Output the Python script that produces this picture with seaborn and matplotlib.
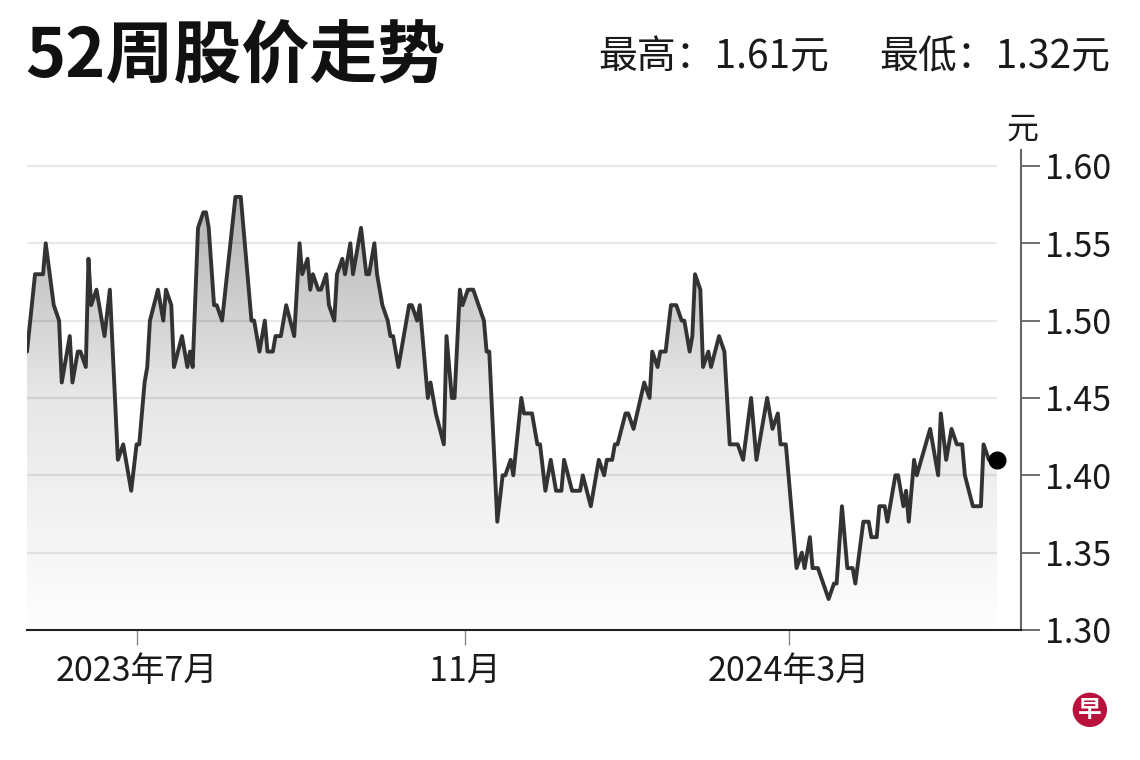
import numpy as np
import pandas as pd
import matplotlib
matplotlib.use('Agg')
import matplotlib.pyplot as plt
import matplotlib.dates as mdates
from matplotlib.colors import LinearSegmentedColormap
import seaborn as sns

# price vertices
dates = [
    '2023-05-21', '2023-05-24', '2023-05-27', '2023-05-28', '2023-05-31',
    '2023-06-02', '2023-06-03', '2023-06-06', '2023-06-07', '2023-06-09',
    '2023-06-10', '2023-06-12', '2023-06-13', '2023-06-14', '2023-06-16',
    '2023-06-19', '2023-06-21', '2023-06-24', '2023-06-26', '2023-06-29',
    '2023-07-01', '2023-07-02', '2023-07-04', '2023-07-05', '2023-07-06',
    '2023-07-09', '2023-07-11', '2023-07-12', '2023-07-14', '2023-07-15',
    '2023-07-18', '2023-07-20', '2023-07-21', '2023-07-22', '2023-07-24',
    '2023-07-26', '2023-07-27', '2023-07-28', '2023-07-30', '2023-07-31',
    '2023-08-02', '2023-08-07', '2023-08-09', '2023-08-10', '2023-08-11',
    '2023-08-13', '2023-08-14', '2023-08-16', '2023-08-18', '2023-08-19',
    '2023-08-21', '2023-08-22', '2023-08-24', '2023-08-26', '2023-08-29',
    '2023-08-31', '2023-09-01', '2023-09-03', '2023-09-04', '2023-09-05',
    '2023-09-07', '2023-09-08', '2023-09-10', '2023-09-11', '2023-09-13',
    '2023-09-14', '2023-09-16', '2023-09-17', '2023-09-19', '2023-09-20',
    '2023-09-23', '2023-09-25', '2023-09-26', '2023-09-28', '2023-09-29',
    '2023-10-01', '2023-10-03', '2023-10-04', '2023-10-05', '2023-10-07',
    '2023-10-10', '2023-10-11', '2023-10-12', '2023-10-14', '2023-10-15',
    '2023-10-18', '2023-10-19', '2023-10-21', '2023-10-24', '2023-10-25',
    '2023-10-27', '2023-10-28', '2023-10-30', '2023-10-31', '2023-11-02',
    '2023-11-04', '2023-11-06', '2023-11-08', '2023-11-09', '2023-11-10',
    '2023-11-13', '2023-11-15', '2023-11-16', '2023-11-18', '2023-11-19',
    '2023-11-22', '2023-11-23', '2023-11-26', '2023-11-28', '2023-11-29',
    '2023-12-01', '2023-12-03', '2023-12-05', '2023-12-07', '2023-12-08',
    '2023-12-11', '2023-12-14', '2023-12-15', '2023-12-18', '2023-12-21',
    '2023-12-23', '2023-12-24', '2023-12-26', '2023-12-27', '2023-12-28',
    '2023-12-31', '2024-01-01', '2024-01-03', '2024-01-07', '2024-01-09',
    '2024-01-10', '2024-01-12', '2024-01-13', '2024-01-15', '2024-01-17',
    '2024-01-19', '2024-01-21', '2024-01-22', '2024-01-24', '2024-01-25',
    '2024-01-26', '2024-01-28', '2024-01-29', '2024-01-31', '2024-02-01',
    '2024-02-04', '2024-02-06', '2024-02-08', '2024-02-11', '2024-02-13',
    '2024-02-16', '2024-02-18', '2024-02-22', '2024-02-24', '2024-02-26',
    '2024-02-27', '2024-02-29', '2024-03-04', '2024-03-06', '2024-03-07',
    '2024-03-09', '2024-03-10', '2024-03-12', '2024-03-16', '2024-03-18',
    '2024-03-19', '2024-03-21', '2024-03-23', '2024-03-25', '2024-03-26',
    '2024-03-29', '2024-03-31', '2024-04-01', '2024-04-03', '2024-04-04',
    '2024-04-06', '2024-04-07', '2024-04-10', '2024-04-11', '2024-04-13',
    '2024-04-14', '2024-04-15', '2024-04-17', '2024-04-18', '2024-04-23',
    '2024-04-24', '2024-04-26', '2024-04-27', '2024-04-29', '2024-05-01',
    '2024-05-03', '2024-05-05', '2024-05-06', '2024-05-09', '2024-05-12',
    '2024-05-13', '2024-05-15', '2024-05-18',
]
prices = [
    1.48, 1.53, 1.53, 1.55, 1.51,
    1.50, 1.46, 1.49, 1.46, 1.48,
    1.48, 1.47, 1.54, 1.51, 1.52,
    1.49, 1.52, 1.41, 1.42, 1.39,
    1.42, 1.42, 1.46, 1.47, 1.50,
    1.52, 1.50, 1.52, 1.51, 1.47,
    1.49, 1.47, 1.48, 1.47, 1.56,
    1.57, 1.57, 1.56, 1.51, 1.51,
    1.50, 1.58, 1.58, 1.56, 1.54,
    1.50, 1.50, 1.48, 1.50, 1.48,
    1.48, 1.49, 1.49, 1.51, 1.49,
    1.55, 1.53, 1.54, 1.52, 1.53,
    1.52, 1.52, 1.53, 1.51, 1.50,
    1.53, 1.54, 1.53, 1.55, 1.53,
    1.56, 1.53, 1.53, 1.55, 1.53,
    1.51, 1.50, 1.49, 1.49, 1.47,
    1.50, 1.51, 1.51, 1.50, 1.51,
    1.45, 1.46, 1.44, 1.42, 1.49,
    1.45, 1.45, 1.52, 1.51, 1.52,
    1.52, 1.51, 1.50, 1.48, 1.48,
    1.37, 1.40, 1.40, 1.41, 1.40,
    1.45, 1.44, 1.44, 1.42, 1.42,
    1.39, 1.41, 1.39, 1.39, 1.41,
    1.39, 1.39, 1.40, 1.38, 1.41,
    1.40, 1.41, 1.41, 1.42, 1.42,
    1.44, 1.44, 1.43, 1.46, 1.45,
    1.48, 1.47, 1.48, 1.48, 1.51,
    1.51, 1.50, 1.50, 1.48, 1.49,
    1.53, 1.52, 1.47, 1.48, 1.47,
    1.49, 1.48, 1.42, 1.42, 1.41,
    1.45, 1.41, 1.45, 1.43, 1.44,
    1.42, 1.42, 1.34, 1.35, 1.34,
    1.36, 1.34, 1.34, 1.32, 1.33,
    1.33, 1.38, 1.34, 1.34, 1.33,
    1.37, 1.37, 1.36, 1.36, 1.38,
    1.38, 1.37, 1.40, 1.40, 1.38,
    1.39, 1.37, 1.41, 1.40, 1.43,
    1.42, 1.40, 1.44, 1.41, 1.43,
    1.42, 1.42, 1.40, 1.38, 1.38,
    1.42, 1.41, 1.41,
]

y_ticks = [1.30, 1.35, 1.40, 1.45, 1.50, 1.55, 1.60]
x_tick_dates = ['2023-07-01', '2023-11-01', '2024-03-01']
x_tick_labels = ['2023年7月', '11月', '2024年3月']
title = '52周股价走势'
high_text = '最高：1.61元'
low_text = '最低：1.32元'
unit = '元'

sns.set_style('white')
plt.rcParams['font.family'] = ['Noto Sans CJK SC', 'DejaVu Sans']

df = pd.DataFrame({'date': pd.to_datetime(dates), 'price': prices})

fig = plt.figure(figsize=(11.4, 7.6), dpi=100)
ax = fig.add_axes([0.0237, 0.1711, 0.8719, 0.6309])

sns.lineplot(data=df, x='date', y='price', ax=ax, color='#333333',
             linewidth=2.8, zorder=4, solid_joinstyle='round')

x_end = pd.Timestamp('2024-05-27')
y_lo, y_hi = 1.30, 1.61

# gradient fill under the line
poly = ax.fill_between(df['date'], df['price'], y_lo, facecolor='none',
                       edgecolor='none')
cmap = LinearSegmentedColormap.from_list('fade', ['#fefefe', '#e6e6e6', '#a6a6a6'])
grad = np.linspace(1, 0, 256).reshape(-1, 1)
x0 = mdates.date2num(df['date'].iloc[0])
x1 = mdates.date2num(df['date'].iloc[-1])
im = ax.imshow(grad, extent=[x0, x1, y_lo, y_hi], aspect='auto', cmap=cmap,
               vmin=0, vmax=1, origin='upper', zorder=1)
im.set_clip_path(poly.get_paths()[0], transform=ax.transData)

# grid lines stop at the last point
ax.hlines(y_ticks[1:], df['date'].iloc[0], df['date'].iloc[-1],
          color='black', alpha=0.09, linewidth=1.6, zorder=2)

# last point
ax.plot(df['date'].iloc[-1], df['price'].iloc[-1], 'o', color='black',
        markersize=12, zorder=5)

ax.set_xlim(df['date'].iloc[0], x_end)
ax.set_ylim(y_lo, y_hi)
ax.set_xlabel('')
ax.set_ylabel('')

for side in ['top', 'left']:
    ax.spines[side].set_visible(False)
ax.spines['right'].set_color('#666666')
ax.spines['right'].set_linewidth(1.5)
ax.spines['bottom'].set_color('#222222')
ax.spines['bottom'].set_linewidth(1.5)

ax.yaxis.tick_right()
ax.set_yticks(y_ticks)
ax.set_yticklabels([f'{v:.2f}' for v in y_ticks])
ax.tick_params(axis='y', length=14, width=1.2, color='#555555', pad=3,
               labelsize=24.5, labelcolor='#1a1a1a', left=False, right=True)

ax.set_xticks(pd.to_datetime(x_tick_dates))
ax.set_xticklabels(x_tick_labels)
ax.tick_params(axis='x', length=11, width=1, color='#888888', pad=6,
               labelsize=24.5, labelcolor='#1a1a1a', bottom=True)

fig.text(0.8965, 0.829, unit, ha='center', va='center', fontsize=23,
         color='#1a1a1a')

fig.text(0.022, 0.924, title, ha='left', va='center', fontsize=49,
         weight='heavy', color='#111111')
fig.text(0.5246, 0.925, high_text, ha='left', va='center', fontsize=28,
         color='#1a1a1a')
fig.text(0.9737, 0.925, low_text, ha='right', va='center', fontsize=28,
         color='#1a1a1a')

# paper logo
fig.text(0.956, 0.066, '早', ha='center', va='center', fontsize=17,
         weight='bold', color='white',
         bbox=dict(boxstyle='circle,pad=0.22', fc='#b8123c', ec='none'))

fig.savefig('out.png', dpi=100, facecolor='white')
